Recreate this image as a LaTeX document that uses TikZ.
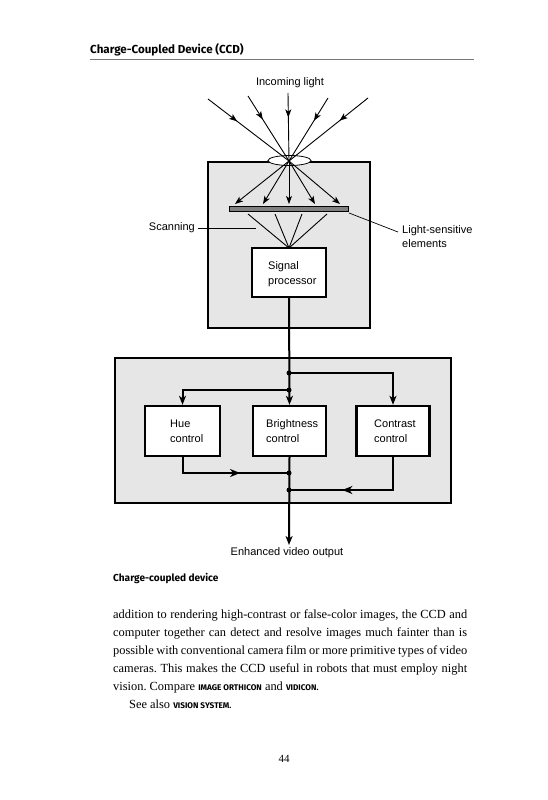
\documentclass[tikz,border=0pt]{standalone}
\usepackage{fontspec}
\setmainfont{Liberation Serif}
\setsansfont{Liberation Sans}
\newfontfamily\headfont{Fira Sans}
\usetikzlibrary{arrows.meta,decorations.markings,shapes.geometric}
\definecolor{boxgray}{HTML}{E6E6E6}
\definecolor{bargray}{HTML}{808080}
\definecolor{rulegray}{HTML}{777777}
\frenchspacing
\tikzset{
  panel/.style={draw=black,line width=2.4pt,fill=boxgray},
  block/.style={draw=black,line width=2.4pt,fill=white,inner sep=0pt},
  lbl/.style={font=\sffamily\fontsize{11}{14}\selectfont,inner sep=0pt},
  ray/.style={line width=0.9pt},
  conn/.style={line width=2pt},
  tip/.style={-{Stealth[length=9pt,width=7pt,inset=2.5pt]}},
  smalltip/.style={-{Stealth[length=8pt,width=6pt,inset=2pt]}},
  midray/.style={ray,postaction={decorate},decoration={markings,mark=at position 0.36 with {\arrow{Stealth[length=8pt,width=6pt,inset=2pt]}}}},
  midconn/.style={conn,postaction={decorate},decoration={markings,mark=at position #1 with {\arrow{Stealth[length=10pt,width=8pt,inset=3pt]}}}},
  dot/.style={circle,fill=black,inner sep=0pt,minimum size=5pt},
  bodyline/.style={anchor=base west,inner sep=0pt,font=\fontsize{12.4}{18}\selectfont}
}
\newcommand{\xsc}[1]{{\headfont\bfseries\fontsize{8.2}{9}\selectfont #1}}
\begin{document}
\begin{tikzpicture}[x=1pt,y=-1pt]
\useasboundingbox (0,0) rectangle (548,800);
\fill[white] (0,0) rectangle (548,800);

% header
\node[anchor=base west,inner sep=0pt,font=\headfont\bfseries\fontsize{11.6}{13}\selectfont] (head) at (90,54) {Charge-Coupled Device (CCD)};
\draw[rulegray,line width=0.9pt] (90,59) coordinate (r1) -- (474,59) coordinate (r2);

% upper panel
\draw[panel] (208,162) rectangle (370,328);
\node[lbl] (inc) at (290,83) {Incoming light};

% lens
\node[draw=black,line width=0.8pt,fill=white,ellipse,minimum width=43pt,minimum height=10pt,inner sep=0pt] (lens) at (289.5,160.5) {};
\coordinate (F) at (289,161);

% incoming rays
\coordinate (a1) at (208,99);
\coordinate (a2) at (248,96);
\coordinate (a3) at (288,93);
\coordinate (a4) at (328,98);
\coordinate (a5) at (368,98);
\foreach \i in {1,...,5} \draw[midray] (a\i) -- (F);

% sensor bar
\node[draw=black,line width=1pt,fill=bargray,minimum width=119pt,minimum height=5pt,inner sep=0pt] (bar) at (288.5,208.5) {};

% fan rays to bar
\foreach \x [count=\i] in {235,263,289,315,340} {
  \coordinate (b\i) at (\x,204);
  \draw[ray,smalltip] (F) -- (b\i);
}

% signal processor
\node[block,minimum width=74pt,minimum height=49pt] (sp) at (289,272.5) {};
\node[lbl,anchor=base west] (sptxt) at (268,269) {Signal};
\node[lbl,anchor=base west] (sptxt2) at (268,284) {processor};

% scanning lines
\coordinate (S) at (289,248);
\foreach \x [count=\i] in {248,275,302,327} {
  \coordinate (c\i) at (\x,214);
  \draw[ray] (c\i) -- (S);
}

% labels with leaders
\node[lbl,anchor=east] (scan) at (195,228) {Scanning};
\coordinate (scanend) at (256,228);
\draw[ray] (scan.east) ++(3,0) -- (scanend);
\node[lbl,anchor=north west,align=left] (lse) at (402,225) {Light-sensitive\\elements};
\coordinate (lsstart) at (349,213);
\coordinate (lsend) at (398,232);
\draw[ray,line width=0.7pt] (lsstart) -- (lsend);

% lower panel
\draw[panel] (115,358) rectangle (451,503);

\node[block,minimum width=75pt,minimum height=50pt] (hue) at (182.5,431) {};
\node[block,minimum width=73pt,minimum height=50pt] (bri) at (289.5,431) {};
\node[block,minimum width=73pt,minimum height=50pt] (con) at (393,431) {};
\node[lbl,anchor=base west] (huet1) at (170,427) {Hue};
\node[lbl,anchor=base west] (huet2) at (170,442) {control};
\node[lbl,anchor=base west] (brit1) at (266,427) {Brightness};
\node[lbl,anchor=base west] (brit2) at (266,442) {control};
\node[lbl,anchor=base west] (cont1) at (374,427) {Contrast};
\node[lbl,anchor=base west] (cont2) at (374,442) {control};

\coordinate (j1) at (289,373);
\coordinate (j2) at (289,390);
\coordinate (j3) at (289,473);
\coordinate (j4) at (289,490);
\coordinate (outend) at (289,545);

\draw[conn,tip] (sp.south) -- (bri.north);
\draw[conn,tip] (j1) -| (con.north);
\draw[conn,tip] (j2) -| (hue.north);
\draw[midconn=0.6] (hue.south) |- (j3);
\draw[midconn=0.61] (con.south) |- (j4);
\draw[conn,tip] (bri.south) -- (outend);
\foreach \j in {j1,j2,j3,j4} \node[dot] at (\j) {};

\node[lbl] (out) at (287,553) {Enhanced video output};

% caption
\node[anchor=base west,inner sep=0pt,font=\headfont\bfseries\fontsize{10.1}{12}\selectfont] (cap) at (113,581) {Charge-coupled device};

% body text
\node[bodyline] (l1) at (113,618) {\hbox to 354pt{addition to rendering high-contrast or false-color images, the CCD and}};
\node[bodyline] (l2) at (113,636) {\hbox to 354pt{computer together can detect and resolve images much fainter than is}};
\node[bodyline] (l3) at (113,654) {\hbox to 354pt{possible with conventional camera film or more primitive types of video}};
\node[bodyline] (l4) at (113,672) {\hbox to 354pt{cameras. This makes the CCD useful in robots that must employ night}};
\node[bodyline] (l5) at (113,690) {vision. Compare \xsc{IMAGE ORTHICON} and \xsc{VIDICON.}};
\node[bodyline] (l6) at (129,708) {See also \xsc{VISION SYSTEM.}};

\node[anchor=base,inner sep=0pt,font=\fontsize{11}{13}\selectfont] (pg) at (284,762) {44};
\end{tikzpicture}
\end{document}
